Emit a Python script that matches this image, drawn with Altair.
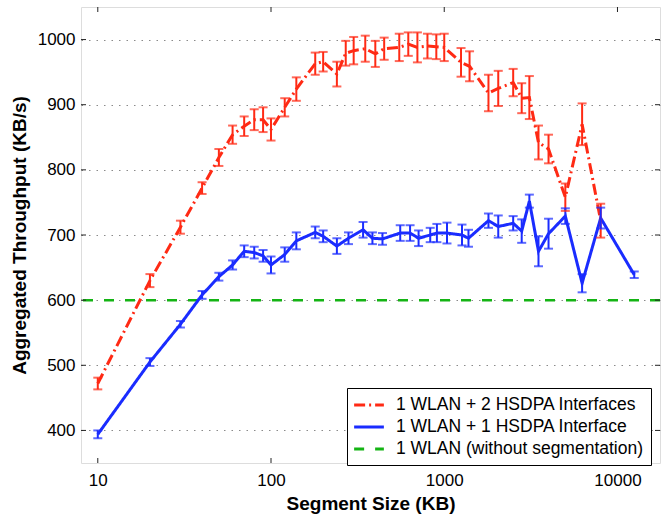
import altair as alt
import pandas as pd

# ---------------- data ----------------
series_names = ["1 WLAN + 2 HSDPA Interfaces",
                "1 WLAN + 1 HSDPA Interface",
                "1 WLAN (without segmentation)"]

red_x = [10, 20, 30, 40, 50, 60, 70, 80, 90, 100, 120, 140, 180, 200, 240, 270, 300,
         350, 400, 450, 550, 620, 700, 800, 900, 1000, 1250, 1400, 1800, 2050, 2500,
         2800, 3100, 3500, 4000, 5000, 6250, 8000]
red_y = [472, 630, 712, 772, 819, 854, 867, 877, 877, 862, 896, 924, 963, 966, 947, 979, 983,
         986, 978, 986, 988, 993, 988, 990, 989, 988, 965, 959, 918, 925, 934,
         910, 911, 842, 832, 758, 870, 722]
red_err = [9, 10, 10, 9, 13, 14, 15, 16, 19, 17, 14, 18, 17, 15, 19, 19, 21,
           20, 20, 17, 21, 18, 23, 19, 19, 21, 22, 23, 28, 27, 21,
           23, 33, 26, 22, 21, 32, 26]

blue_x = [10, 20, 30, 40, 50, 60, 70, 80, 90, 100, 120, 140, 180, 200, 240, 280, 340,
          385, 440, 557, 635, 711, 830, 907, 1037, 1266, 1380, 1800, 2050, 2500, 2800,
          3100, 3500, 4000, 5000, 6250, 8000, 12500]
blue_y = [394, 505, 563, 608, 636, 654, 675, 673, 668, 654, 670, 691, 704, 698, 683, 695, 708,
          695, 694, 703, 703, 695, 700, 703, 703, 700, 695, 722, 713, 718, 706,
          752, 675, 702, 729, 626, 726, 639]
blue_err = [6, 6, 5, 6, 6, 7, 9, 9, 9, 13, 11, 13, 9, 9, 12, 9, 12,
            9, 9, 12, 12, 12, 11, 14, 16, 16, 13, 11, 17, 11, 18,
            10, 23, 23, 12, 14, 16, 5]

green_level = [600]

x_ticks = [10, 100, 1000, 10000]
y_ticks = [400, 500, 600, 700, 800, 900, 1000]

colors = ["#ff2a14", "#1a2cff", "#14b414"]
dashes = [[11, 4, 2, 4], [1, 0], [10, 11]]

# ---------------- tables ----------------
rows = []
for s, xs, ys, es in [(series_names[0], red_x, red_y, red_err),
                      (series_names[1], blue_x, blue_y, blue_err)]:
    for x, y, e in zip(xs, ys, es):
        rows.append({"series": s, "x": x, "y": y, "lo": y - e, "hi": y + e})
df = pd.DataFrame(rows)
df_green = pd.DataFrame({"series": [series_names[2]], "y": green_level})
df_xt = pd.DataFrame({"x": x_ticks})
df_yt = pd.DataFrame({"y": y_ticks})

W, H = 579, 456
FONT = "Liberation Sans"

xscale = alt.Scale(type="log", domain=[8, 17600], nice=False)
yscale = alt.Scale(domain=[350, 1050], nice=False, zero=False)

cscale = alt.Scale(domain=series_names, range=colors)
dscale = alt.Scale(domain=series_names, range=dashes)

leg = alt.Legend(orient="none", legendX=266, legendY=381, title=None,
                 labelFontSize=17.5, labelFont=FONT, labelColor="black",
                 symbolType="M-1.75,0L1.75,0", symbolSize=289, symbolStrokeWidth=3,
                 symbolOffset=5, strokeColor="black", fillColor="white", padding=7,
                 rowPadding=3, labelOffset=17, labelLimit=400)

xaxis = alt.Axis(values=x_ticks, format="d", grid=False, ticks=False, domain=False,
                 labelFontSize=17, labelFont=FONT, labelColor="black", labelPadding=9,
                 title="Segment Size (KB)", titleFontSize=19, titleFont=FONT,
                 titleFontWeight="bold", titleColor="black", titlePadding=6)
yaxis = alt.Axis(values=y_ticks, format="d", grid=True, gridDash=[1.5, 6], gridColor="#8a8a8a",
                 gridWidth=1, ticks=False, domain=False,
                 labelFontSize=17, labelFont=FONT, labelColor="black", labelPadding=6,
                 title="Aggregated Throughput (KB/s)", titleFontSize=19, titleFont=FONT,
                 titleFontWeight="bold", titleColor="black", titlePadding=8)

base = alt.Chart(df)

green = alt.Chart(df_green).mark_rule(strokeWidth=2.5).encode(
    y=alt.Y("y:Q", scale=yscale, axis=yaxis),
    color=alt.Color("series:N", scale=cscale, legend=leg),
    strokeDash=alt.StrokeDash("series:N", scale=dscale, legend=leg),
)

lines = base.mark_line(strokeWidth=3).encode(
    x=alt.X("x:Q", scale=xscale, axis=xaxis),
    y=alt.Y("y:Q", scale=yscale, axis=yaxis),
    color=alt.Color("series:N", scale=cscale, legend=leg),
    strokeDash=alt.StrokeDash("series:N", scale=dscale, legend=leg),
    order="x:Q",
)

bars = base.mark_rule(strokeWidth=2).encode(
    x=alt.X("x:Q", scale=xscale, axis=xaxis),
    y=alt.Y("lo:Q", scale=yscale, axis=yaxis),
    y2="hi:Q",
    color=alt.Color("series:N", scale=cscale, legend=None),
)
cap_lo = base.mark_tick(orient="horizontal", size=9, thickness=2).encode(
    x=alt.X("x:Q", scale=xscale, axis=xaxis),
    y=alt.Y("lo:Q", scale=yscale, axis=yaxis),
    color=alt.Color("series:N", scale=cscale, legend=None),
)
cap_hi = base.mark_tick(orient="horizontal", size=9, thickness=2).encode(
    x=alt.X("x:Q", scale=xscale, axis=xaxis),
    y=alt.Y("hi:Q", scale=yscale, axis=yaxis),
    color=alt.Color("series:N", scale=cscale, legend=None),
)

tick_style = dict(color="#222222", strokeWidth=1)
xt_bot = alt.Chart(df_xt).mark_rule(**tick_style).encode(
    x=alt.X("x:Q", scale=xscale, axis=xaxis), y=alt.value(H), y2=alt.value(H - 5))
xt_top = alt.Chart(df_xt).mark_rule(**tick_style).encode(
    x=alt.X("x:Q", scale=xscale, axis=xaxis), y=alt.value(0), y2=alt.value(5))
yt_left = alt.Chart(df_yt).mark_rule(**tick_style).encode(
    y=alt.Y("y:Q", scale=yscale, axis=yaxis), x=alt.value(0), x2=alt.value(5))
yt_right = alt.Chart(df_yt).mark_rule(**tick_style).encode(
    y=alt.Y("y:Q", scale=yscale, axis=yaxis), x=alt.value(W - 5), x2=alt.value(W))

chart = alt.layer(
    green, lines, bars, cap_lo, cap_hi, xt_bot, xt_top, yt_left, yt_right
).properties(
    width=W, height=H,
    autosize=alt.AutoSizeParams(type="none"),
    padding={"left": 81, "top": 7, "right": 10, "bottom": 54},
).configure_view(
    stroke="#222222", strokeWidth=1
).configure(
    font=FONT, background="white"
)

chart.save("out.html", embed_options={"renderer": "svg", "actions": False})
